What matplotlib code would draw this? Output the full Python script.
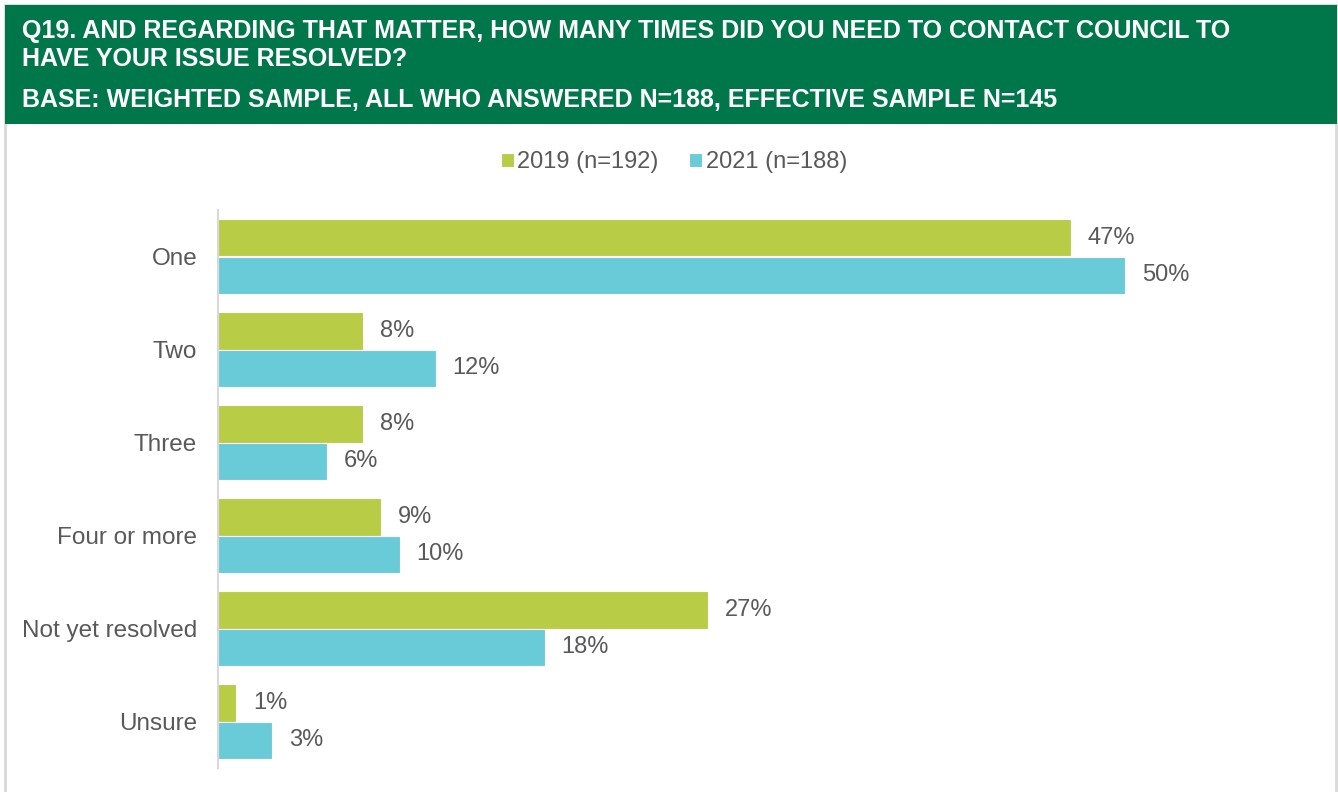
import matplotlib
matplotlib.use("Agg")
import matplotlib.pyplot as plt
from matplotlib.patches import Rectangle

plt.rcParams['font.family'] = ['Liberation Sans', 'DejaVu Sans']

categories = ["One", "Two", "Three", "Four or more", "Not yet resolved", "Unsure"]
series_names = ["2019 (n=192)", "2021 (n=188)"]
values_2019 = [47, 8, 8, 9, 27, 1]
values_2021 = [50, 12, 6, 10, 18, 3]

title_lines = ["Q19. AND REGARDING THAT MATTER, HOW MANY TIMES DID YOU NEED TO CONTACT COUNCIL TO",
               "HAVE YOUR ISSUE RESOLVED?"]
base_line = "BASE: WEIGHTED SAMPLE, ALL WHO ANSWERED N=188, EFFECTIVE SAMPLE N=145"

GREEN_HEAD = "#00774A"
C2019 = "#B8CC45"
C2021 = "#69CBD7"
TXT = "#595959"

W, H = 1338, 792
fig = plt.figure(figsize=(W / 100, H / 100), dpi=100)

def fx(px):
    return px / W

def fy(py):
    return 1 - py / H

# Panel frame and header band (behind the axes)
fig.patches.append(Rectangle((fx(5), fy(800)), fx(1331), (800 - 5) / H,
                             transform=fig.transFigure, facecolor="white",
                             edgecolor="#D9D9D9", linewidth=2, zorder=-5))
fig.patches.append(Rectangle((fx(5), fy(124)), fx(1332), (124 - 5) / H,
                             transform=fig.transFigure, facecolor=GREEN_HEAD,
                             edgecolor="none", zorder=-4))

title_kw = dict(color="white", fontsize=18, fontweight="bold",
                va="baseline", ha="left")
fig.text(fx(22), fy(38), title_lines[0], **title_kw)
fig.text(fx(22), fy(66), title_lines[1], **title_kw)
fig.text(fx(22), fy(107), base_line, **title_kw)

# Bar chart area
x0, x1 = 218, 218 + 60 * 18.15
y_top, y_bot = 210, 768
ax = fig.add_axes([fx(x0), fy(y_bot), fx(x1 - x0), (y_bot - y_top) / H])
ax.set_facecolor("none")

n = len(categories)
pos = list(range(n))
bh = 0.4
b1 = ax.barh([p - bh / 2 for p in pos], values_2019, height=bh, color=C2019,
             edgecolor="white", linewidth=0.8, label=series_names[0])
b2 = ax.barh([p + bh / 2 for p in pos], values_2021, height=bh, color=C2021,
             edgecolor="white", linewidth=0.8, label=series_names[1])

for bars, vals in ((b1, values_2019), (b2, values_2021)):
    for rect, v in zip(bars, vals):
        ax.annotate(f"{v}%", (v, rect.get_y() + rect.get_height() / 2),
                    xytext=(12, 0), textcoords="offset points",
                    va="center", ha="left", fontsize=17, color=TXT)

ax.set_xlim(0, 60)
ax.set_ylim(n - 0.5, -0.5)
ax.set_yticks(pos)
ax.set_yticklabels(categories, fontsize=17.5, color=TXT)
ax.tick_params(axis="y", length=0, pad=15)
ax.set_xticks([])
for s in ("top", "right", "bottom"):
    ax.spines[s].set_visible(False)
ax.spines["left"].set_color("#D9D9D9")
ax.spines["left"].set_linewidth(1.5)

fig.legend(handles=[b1, b2], labels=series_names, loc="center",
           bbox_to_anchor=(fx(674), fy(162)), ncol=2, frameon=False,
           fontsize=17, labelcolor=TXT, handlelength=0.55, handleheight=0.55,
           handletextpad=0.15, columnspacing=1.3)

fig.savefig("out.png", dpi=100, facecolor="white")
